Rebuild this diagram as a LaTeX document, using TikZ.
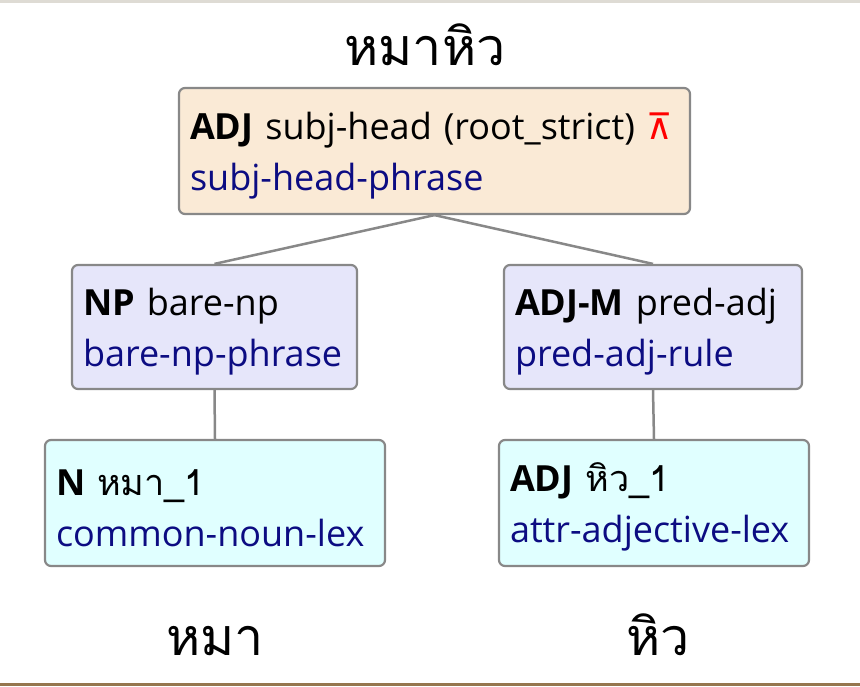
\documentclass[tikz,border=0pt]{standalone}
\usepackage{fontspec}
\setmainfont{Open Sans}
\newfontfamily\thaifont[Script=Thai]{Loma}
\newfontfamily\symfont{DejaVu Sans}
\usetikzlibrary{positioning}
\definecolor{rootfill}{RGB}{250,234,214}
\definecolor{phrasefill}{RGB}{230,230,250}
\definecolor{lexfill}{RGB}{224,255,255}
\definecolor{edgegray}{RGB}{136,136,136}
\definecolor{typeblue}{RGB}{12,12,130}
\definecolor{topstrip}{RGB}{222,219,212}
\definecolor{bottomstrip}{RGB}{150,118,78}
\newcommand{\tallstrut}{\rule{0pt}{36pt}}

\begin{document}
\begin{tikzpicture}[x=1pt, y=-1pt,
    tree/.style={draw=edgegray, line width=2.2pt, rounded corners=6pt, align=left, inner xsep=11pt, inner ysep=0pt, font=\fontsize{36}{51}\selectfont},
    link/.style={draw=edgegray, line width=2.5pt},
    word/.style={anchor=base, font=\thaifont\fontsize{52}{60}\selectfont}
]
\useasboundingbox (0,0) rectangle (860,686);
\fill[white] (0,0) rectangle (860,686);
\fill[topstrip] (0,0) rectangle (860,3);
\fill[bottomstrip] (0,683) rectangle (860,686);

% Sentence
\node[word] (sent) at (425,65) {หมาหิว};

% Root
\node[tree, fill=rootfill, text width=489pt, minimum height=126pt] (root) at (434.5,151) {\tallstrut\textbf{ADJ} subj-head (root\_strict) {\color{red}\symfont ⊼}\\\textcolor{typeblue}{subj-head-phrase}};

% Phrases
\node[tree, fill=phrasefill, text width=263pt, minimum height=124pt] (np) at (214.5,327) {\tallstrut\textbf{NP} bare-np\\\textcolor{typeblue}{bare-np-phrase}};
\node[tree, fill=phrasefill, text width=276pt, minimum height=124pt] (adjm) at (653,327) {\tallstrut\textbf{ADJ-M} pred-adj\\\textcolor{typeblue}{pred-adj-rule}};

% Lexical entries
\node[tree, fill=lexfill, text width=318pt, minimum height=126pt] (noun) at (215,503) {\tallstrut\textbf{N} {\thaifont หมา\_1}\\\textcolor{typeblue}{common-noun-lex}};
\node[tree, fill=lexfill, text width=288pt, minimum height=126pt] (adj) at (654,503) {\tallstrut\textbf{ADJ} {\thaifont หิว\_1}\\\textcolor{typeblue}{attr-adjective-lex}};

% Words
\node[word] (w1) at (215,655) {หมา};
\node[word] (w2) at (658,655) {หิว};

\draw[link] (root.south) -- (np.north);
\draw[link] (root.south) -- (adjm.north);
\draw[link] (np.south) -- (noun.north);
\draw[link] (adjm.south) -- (adj.north);
\end{tikzpicture}
\end{document}
